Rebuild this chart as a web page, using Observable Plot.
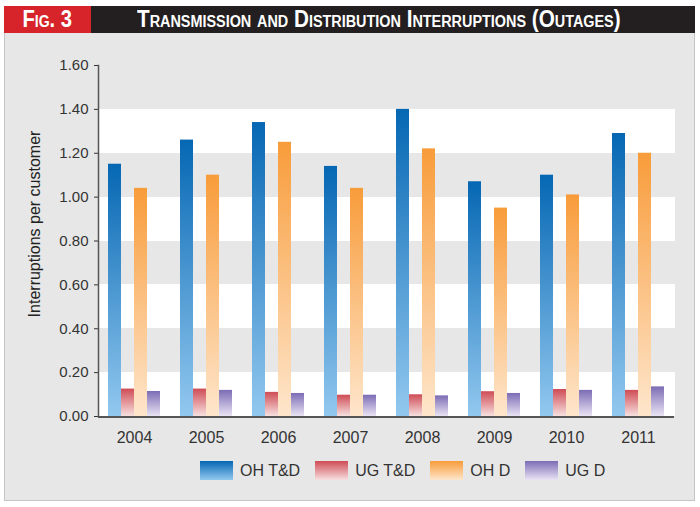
<!DOCTYPE html>
<html>
<head>
<meta charset="utf-8">
<script src="https://cdn.jsdelivr.net/npm/d3@7"></script>
<script src="https://cdn.jsdelivr.net/npm/@observablehq/plot@0.6"></script>
<style>
  body { margin:0; width:700px; height:507px; position:relative; overflow:hidden; background:#fff;
         font-family:"Liberation Sans",Arial,sans-serif; }
  #panel { position:absolute; left:4px; top:33px; width:689px; height:467px; background:#e7e7e7;
           border:1px solid #c4c4c4; border-top:none; }
  #header { position:absolute; left:4px; top:6px; width:691px; height:27px; background:#231f20; }
  #fig { position:absolute; left:0; top:0; width:87px; height:27px; background:#d7242b; color:#fff;
         font-weight:bold; font-variant:small-caps; font-size:23px; line-height:27px; text-align:center; }
  #fig span { display:inline-block; transform:scaleX(0.88); }
  #title { position:absolute; left:133px; top:0; height:27px; line-height:27px; color:#fff; white-space:nowrap;
           font-weight:bold; font-variant:small-caps; font-size:23px; transform:scaleX(0.9); transform-origin:0 50%; }
  #chart { position:absolute; left:0; top:33px; }
  #ylabel { position:absolute; left:35px; top:224px; transform:translate(-50%,-50%) rotate(-90deg);
            white-space:nowrap; font-size:16px; color:#222; }
  #legend { position:absolute; left:200px; top:461px; display:flex; align-items:center; font-size:16px; color:#333; }
  .item { display:flex; align-items:center; margin-right:15px; }
  .sw { width:33px; height:19px; margin-right:7px; }
</style>
</head>
<body>
<div id="panel"></div>
<div id="header"><div id="fig"><span>Fig. 3</span></div><div id="title">Transmission and Distribution Interruptions (Outages)</div></div>
<div id="chart"></div>
<div id="ylabel">Interruptions per customer</div>
<div id="legend"></div>
<script>
const years = ["2004","2005","2006","2007","2008","2009","2010","2011"];
const series = ["OH T&D","UG T&D","OH D","UG D"];
const ohTD = [1.15, 1.26, 1.34, 1.14, 1.40, 1.07, 1.10, 1.29];
const ugTD = [0.125, 0.125, 0.11, 0.097, 0.099, 0.113, 0.123, 0.119];
const ohD  = [1.04, 1.10, 1.25, 1.04, 1.22, 0.95, 1.01, 1.20];
const ugD  = [0.114, 0.119, 0.105, 0.097, 0.094, 0.105, 0.119, 0.135];
const yTicks = [0, 0.2, 0.4, 0.6, 0.8, 1.0, 1.2, 1.4, 1.6];
const gradTop = ["#0567b3", "#cf4c55", "#f89c3a", "#7c6cb5"];
const gradBottom = ["#92c8ef", "#f7e0e0", "#fee6cc", "#e9e4f4"];

const valuesBySeries = [ohTD, ugTD, ohD, ugD];
const rows = [];
years.forEach((y, i) => series.forEach((s, j) => rows.push({year: y, series: s, value: valuesBySeries[j][i]})));
// white bands between alternate ticks
const bands = [];
for (let k = 0; k + 1 < yTicks.length - 1; k += 2) bands.push([yTicks[k], yTicks[k + 1]]);

const urls = series.map((s, i) => `url(#grad${i})`);

const plot = Plot.plot({
  width: 700,
  height: 420,
  marginTop: 32,
  marginBottom: 37,
  marginLeft: 97,
  marginRight: 25,
  style: { background: "transparent", fontFamily: '"Liberation Sans",Arial,sans-serif', color: "#333" },
  fx: { domain: years, padding: 0, axis: "bottom", tickSize: 0, tickPadding: 15, label: null },
  x: { domain: series, axis: null, paddingInner: 0, paddingOuter: 0.695 },
  y: { domain: [0, 1.6], ticks: yTicks, tickFormat: d3.format(".2f"), tickSize: 4, tickPadding: 6, label: null },
  color: { domain: series, range: urls },
  marks: [
    Plot.rectY(bands, { y1: d => d[0], y2: d => d[1], fill: "white", shapeRendering: "crispEdges", insetLeft: -0.5, insetRight: -0.5 }),
    Plot.barY(rows, { fx: "year", x: "series", y: "value", fill: "series", inset: 0 }),
    Plot.ruleY([0], { stroke: "#555", strokeWidth: 2, shapeRendering: "crispEdges" }),
    Plot.frame({ anchor: "left", stroke: "#555", strokeWidth: 1.5, facetAnchor: "left" })
  ]
});

const defs = d3.select(plot).insert("defs", ":first-child");
series.forEach((s, i) => {
  const g = defs.append("linearGradient").attr("id", `grad${i}`).attr("x1", 0).attr("y1", 0).attr("x2", 0).attr("y2", 1);
  g.append("stop").attr("offset", "0%").attr("stop-color", gradTop[i]);
  g.append("stop").attr("offset", "100%").attr("stop-color", gradBottom[i]);
});
d3.select(plot).selectAll("[aria-label='fx-axis tick label']").style("font-size", "16px");
d3.select(plot).selectAll("[aria-label='y-axis tick label']").style("font-size", "15px");
d3.select(plot).selectAll("[aria-label='y-axis tick']").attr("stroke", "#555");
document.getElementById("chart").appendChild(plot);

const legend = d3.select("#legend");
series.forEach((s, i) => {
  const it = legend.append("div").attr("class", "item");
  it.append("div").attr("class", "sw").style("background", `linear-gradient(to bottom, ${gradTop[i]}, ${gradBottom[i]})`);
  it.append("span").text(s);
});
</script>
</body>
</html>
